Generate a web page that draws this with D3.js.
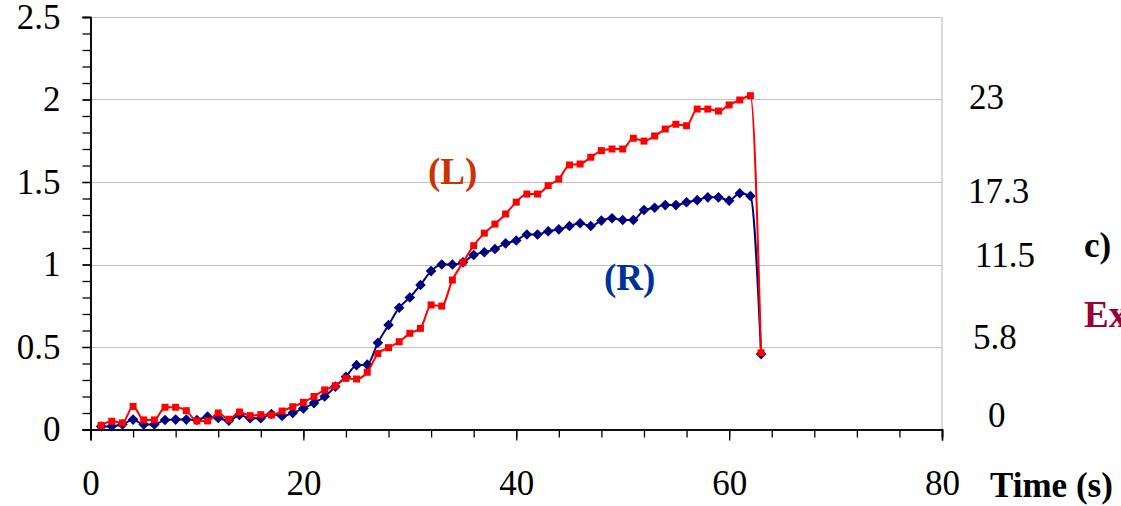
<!DOCTYPE html>
<html>
<head>
<meta charset="utf-8">
<script src="https://cdn.jsdelivr.net/npm/d3@7"></script>
<style>
  body { margin: 0; background: #fff; }
  svg { display: block; font-family: "Liberation Serif", "Times New Roman", serif; }
</style>
</head>
<body>
<svg id="chart" width="1121" height="506"></svg>
<script>
// time (s)
const time = [1, 2, 3, 4, 5, 6, 7, 8, 9, 10,
	11, 12, 13, 14, 15, 16, 17, 18, 19, 20,
	21, 22, 23, 24, 25, 26, 27, 28, 29, 30,
	31, 32, 33, 34, 35, 36, 37, 38, 39, 40,
	41, 42, 43, 44, 45, 46, 47, 48, 49, 50,
	51, 52, 53, 54, 55, 56, 57, 58, 59, 60,
	61, 62, 63]

// (L) red squares
const seriesL = [0.025, 0.05, 0.04, 0.14, 0.058, 0.058, 0.135, 0.135, 0.114, 0.052,
	0.052, 0.10, 0.062, 0.106, 0.084, 0.09, 0.088, 0.112, 0.138, 0.165,
	0.2, 0.24, 0.265, 0.31, 0.306, 0.347, 0.46, 0.496, 0.532, 0.583,
	0.613, 0.755, 0.748, 0.906, 1.013, 1.114, 1.19, 1.245, 1.306, 1.378,
	1.427, 1.427, 1.478, 1.518, 1.603, 1.609, 1.65, 1.69, 1.70, 1.70,
	1.765, 1.748, 1.779, 1.821, 1.85, 1.841, 1.942, 1.942, 1.93, 1.967,
	1.997, 2.023, 0.465]

// (R) blue diamonds
const seriesR = [0.018, 0.02, 0.03, 0.06, 0.03, 0.03, 0.058, 0.06, 0.06, 0.058,
	0.078, 0.07, 0.053, 0.088, 0.068, 0.068, 0.094, 0.082, 0.10, 0.128,
	0.16, 0.2, 0.26, 0.32, 0.39, 0.393, 0.526, 0.633, 0.738, 0.8,
	0.876, 0.96, 1.0, 1.0, 1.013, 1.058, 1.074, 1.094, 1.128, 1.145,
	1.182, 1.182, 1.202, 1.213, 1.233, 1.25, 1.233, 1.266, 1.28, 1.27,
	1.27, 1.33, 1.344, 1.36, 1.36, 1.377, 1.39, 1.407, 1.407, 1.387,
	1.432, 1.415, 0.457]

const xTicks = [0, 20, 40, 60, 80]
const yTicks = [0, 0.5, 1, 1.5, 2, 2.5]
// right-hand labels (text only, no scale in the original)
const rightLabels = ["23", "17.3", "11.5", "5.8", "0"]

const svg = d3.select("#chart")

const margin = { top: 17, bottom: 76.5, left: 90.5, right: 179 }
const width = 1121
const height = 506

const x = d3.scaleLinear().domain([0, 80]).range([margin.left, width - margin.right])
const y = d3.scaleLinear().domain([0, 2.5]).range([height - margin.bottom, margin.top])

//gridlines
svg.append("g")
	.selectAll("line")
	.data(yTicks.slice(1))
	.join("line")
	.attr("x1", x(0))
	.attr("x2", x(80))
	.attr("y1", (d) => Math.round(y(d)) + 0.5)
	.attr("y2", (d) => Math.round(y(d)) + 0.5)
	.attr("stroke", "#c0c0c0")
	.attr("stroke-width", 1.2)

// right border of plot area
svg.append("line")
	.attr("x1", x(80)).attr("x2", x(80))
	.attr("y1", y(2.5)).attr("y2", y(0))
	.attr("stroke", "#c0c0c0")
	.attr("stroke-width", 1.2)

// axes
const axis = {
	xMinor: (g) => g.attr("transform", `translate(0, ${y(0)})`)
		.call(d3.axisBottom(x).tickValues(d3.range(0, 81, 4)).tickSize(8).tickFormat("")),
	xMajor: (g) => g.attr("transform", `translate(0, ${y(0)})`)
		.call(d3.axisBottom(x).tickValues(xTicks).tickSize(11).tickPadding(30).tickFormat(d3.format("d"))),
	yMinor: (g) => g.attr("transform", `translate(${x(0)}, 0)`)
		.call(d3.axisLeft(y).tickValues(d3.range(0, 2.51, 0.1)).tickSize(8).tickFormat("")),
	yMajor: (g) => g.attr("transform", `translate(${x(0)}, 0)`)
		.call(d3.axisLeft(y).tickValues(yTicks).tickSize(8).tickPadding(22).tickFormat((d) => d)),
}

svg.append("g").call(axis.xMinor)
svg.append("g").call(axis.xMajor)
svg.append("g").call(axis.yMinor)
svg.append("g").call(axis.yMajor)

svg.selectAll(".domain").attr("stroke", "#000").attr("stroke-width", 1.5)
svg.selectAll(".tick line").attr("stroke", "#000").attr("stroke-width", 1.3)
svg.selectAll(".tick text")
	.attr("fill", "#000")
	.style("font-size", "35px")
	.style("font-family", "'Liberation Serif', 'Times New Roman', serif")

// lines
const line = (vals) => d3.line()
	.x((d, i) => x(time[i]))
	.y((d) => y(d))
	.curve(d3.curveMonotoneX)(vals)

// R series first, L on top
svg.append("path")
	.attr("d", line(seriesR))
	.attr("fill", "none")
	.attr("stroke", "#000080")
	.attr("stroke-width", 2)

svg.append("g")
	.selectAll("path")
	.data(seriesR)
	.join("path")
	.attr("d", d3.symbol(d3.symbolSquare, 56))
	.attr("transform", (d, i) => `translate(${x(time[i])}, ${y(d)}) rotate(45)`)
	.attr("fill", "#000080")

svg.append("path")
	.attr("d", line(seriesL))
	.attr("fill", "none")
	.attr("stroke", "#ff0000")
	.attr("stroke-width", 2)

svg.append("g")
	.selectAll("rect")
	.data(seriesL)
	.join("rect")
	.attr("x", (d, i) => x(time[i]) - 3.5)
	.attr("y", (d) => y(d) - 3.5)
	.attr("width", 7)
	.attr("height", 7)
	.attr("fill", "#ff0000")

// series labels
svg.append("text")
	.attr("x", 428).attr("y", 184)
	.attr("fill", "#cc3300")
	.attr("font-weight", "bold")
	.style("font-size", "37px")
	.text("(L)")

svg.append("text")
	.attr("x", 604).attr("y", 290)
	.attr("fill", "#003399")
	.attr("font-weight", "bold")
	.style("font-size", "37px")
	.text("(R)")

// right side labels
const rightPos = [[969, 97], [968, 191], [975, 255], [973, 337], [988, 415]]
svg.append("g")
	.selectAll("text")
	.data(rightLabels)
	.join("text")
	.attr("x", (d, i) => rightPos[i][0])
	.attr("y", (d, i) => rightPos[i][1])
	.attr("dy", "0.35em")
	.attr("fill", "#000")
	.style("font-size", "35px")
	.text((d) => d)

svg.append("text")
	.attr("x", 1084).attr("y", 257)
	.attr("font-weight", "bold")
	.style("font-size", "35px")
	.text("c)")

svg.append("text")
	.attr("x", 1084).attr("y", 327)
	.attr("fill", "#990033")
	.attr("font-weight", "bold")
	.style("font-size", "37px")
	.text("Ex")

svg.append("text")
	.attr("x", 990).attr("y", 497)
	.attr("font-weight", "bold")
	.style("font-size", "35px")
	.text("Time (s)")
</script>
</body>
</html>
